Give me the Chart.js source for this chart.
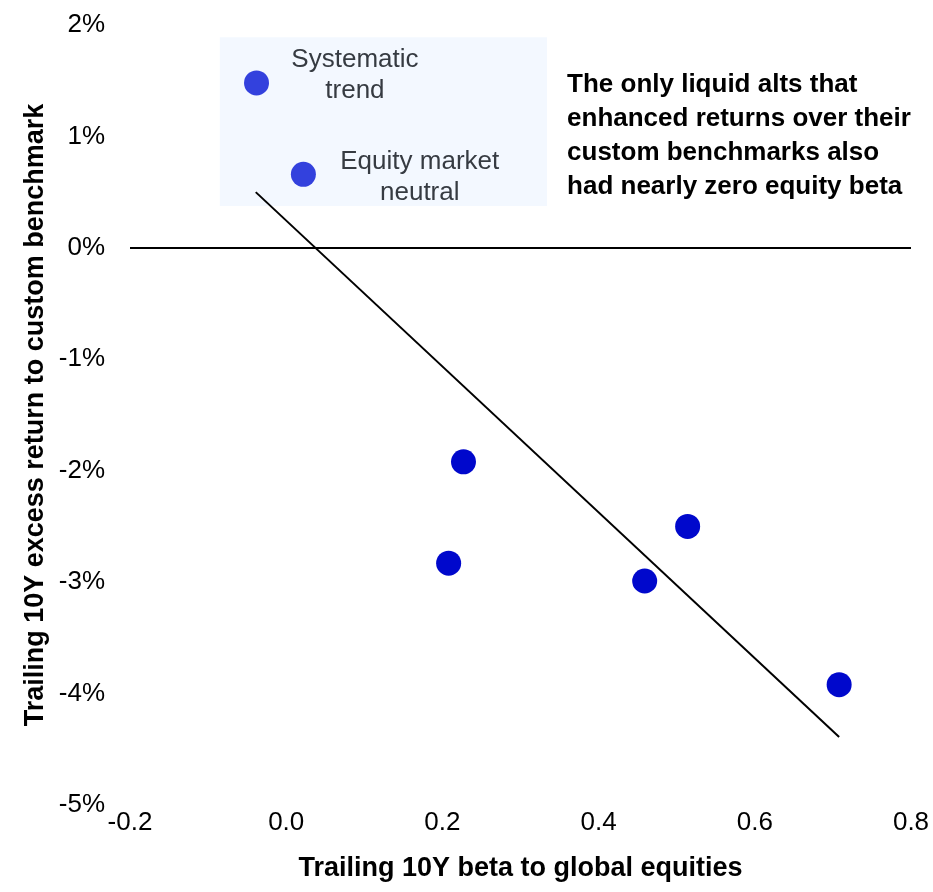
<!DOCTYPE html>
<html>
<head>
<meta charset="utf-8">
<script src="https://cdn.jsdelivr.net/npm/chart.js@4/dist/chart.umd.min.js"></script>
<style>
  html, body { margin: 0; padding: 0; background: #fff; }
  #wrap { width: 933px; height: 892px; }
</style>
</head>
<body>
<div id="wrap"><canvas id="chart" width="933" height="892"></canvas></div>
<script>
// beta to global equities (x) vs excess return in % (y)
const highlightNames = ['Systematic trend', 'Equity market neutral'];
const highlightBeta = [-0.038, 0.022];
const highlightExcess = [1.48, 0.66];

const otherBeta = [0.227, 0.208, 0.459, 0.514, 0.708];
const otherExcess = [-1.92, -2.83, -2.99, -2.50, -3.92];

const trendBeta = [-0.039, 0.708];
const trendExcess = [0.50, -4.39];

const xTicks = [-0.2, 0.0, 0.2, 0.4, 0.6, 0.8];
const yTicks = [-5, -4, -3, -2, -1, 0, 1, 2];

const FONT = "'Liberation Sans', Arial, sans-serif";

function toPoints(xs, ys) {
    return xs.map((x, i) => ({ x: x, y: ys[i] }));
}

// shaded box behind the two highlighted strategies, and the text notes
const notes = {
    id: 'notes',
    beforeDatasetsDraw(chart) {
        const { ctx, scales: { x, y } } = chart;
        const x0 = x.getPixelForValue(-0.085), x1 = x.getPixelForValue(0.334);
        const y0 = y.getPixelForValue(1.89), y1 = y.getPixelForValue(0.376);
        ctx.save();
        ctx.fillStyle = '#f3f8ff';
        ctx.fillRect(x0, y0, x1 - x0, y1 - y0);
        ctx.restore();
    },
    afterDatasetsDraw(chart) {
        const { ctx, scales: { x, y } } = chart;
        ctx.save();
        ctx.textBaseline = 'middle';

        ctx.font = '26px ' + FONT;
        ctx.fillStyle = '#363b42';
        ctx.textAlign = 'center';
        const labelAt = [[0.088, 1.545], [0.171, 0.63]];
        const labelLines = [['Systematic', 'trend'], ['Equity market', 'neutral']];
        labelLines.forEach((lines, i) => {
            const px = x.getPixelForValue(labelAt[i][0]);
            const py = y.getPixelForValue(labelAt[i][1]);
            lines.forEach((t, j) => {
                ctx.fillText(t, px, py + (j - (lines.length - 1) / 2) * 31);
            });
        });

        ctx.font = 'bold 26px ' + FONT;
        ctx.fillStyle = '#000';
        ctx.textAlign = 'left';
        const big = ['The only liquid alts that', 'enhanced returns over their',
                     'custom benchmarks also', 'had nearly zero equity beta'];
        const bx = x.getPixelForValue(0.3596);
        const by = y.getPixelForValue(1.462);
        big.forEach((t, j) => ctx.fillText(t, bx, by + j * 33.8));
        ctx.restore();
    }
};

new Chart(document.getElementById('chart'), {
    type: 'scatter',
    data: {
        datasets: [
            {
                label: 'Trend',
                type: 'line',
                data: toPoints(trendBeta, trendExcess),
                borderColor: '#000',
                borderWidth: 2,
                pointRadius: 0,
                fill: false,
                order: 3
            },
            {
                label: 'Highlighted',
                data: toPoints(highlightBeta, highlightExcess),
                backgroundColor: '#3341dd',
                borderWidth: 0,
                pointRadius: 12.5,
                order: 1
            },
            {
                label: 'Other liquid alts',
                data: toPoints(otherBeta, otherExcess),
                backgroundColor: '#0008cc',
                borderWidth: 0,
                pointRadius: 12.5,
                order: 2
            }
        ]
    },
    options: {
        responsive: false,
        animation: false,
        layout: { padding: { top: 25, right: 22, bottom: 0, left: 0 } },
        plugins: {
            legend: { display: false },
            tooltip: { enabled: false }
        },
        scales: {
            x: {
                type: 'linear',
                min: -0.2,
                max: 0.8,
                afterBuildTicks: (scale) => { scale.ticks = xTicks.map(v => ({ value: v })); },
                afterFit: (scale) => { scale.height = 87; },
                grid: { display: false, drawTicks: false },
                border: { display: false },
                ticks: {
                    padding: 2,
                    color: '#000',
                    font: { family: FONT, size: 26 },
                    callback: (v) => (Math.abs(v) < 1e-9 ? 0 : v).toFixed(1)
                },
                title: {
                    display: true,
                    text: 'Trailing 10Y beta to global equities',
                    color: '#000',
                    font: { family: FONT, size: 27, weight: 'bold' },
                    padding: { top: 0, bottom: 7 }
                }
            },
            y: {
                type: 'linear',
                min: -5,
                max: 2,
                afterBuildTicks: (scale) => { scale.ticks = yTicks.map(v => ({ value: v })); },
                afterFit: (scale) => { scale.width = 130; scale.paddingTop = 0; scale.paddingBottom = 0; },
                grid: {
                    drawTicks: false,
                    color: (c) => (c.tick && c.tick.value === 0 ? '#000' : 'rgba(0,0,0,0)'),
                    lineWidth: 2
                },
                border: { display: false },
                ticks: {
                    padding: 25,
                    color: '#000',
                    font: { family: FONT, size: 26 },
                    callback: (v) => v + '%'
                },
                title: {
                    display: true,
                    text: 'Trailing 10Y excess return to custom benchmark',
                    color: '#000',
                    font: { family: FONT, size: 27, weight: 'bold' },
                    padding: { top: 19, bottom: 0 }
                }
            }
        }
    },
    plugins: [notes]
});
</script>
</body>
</html>
